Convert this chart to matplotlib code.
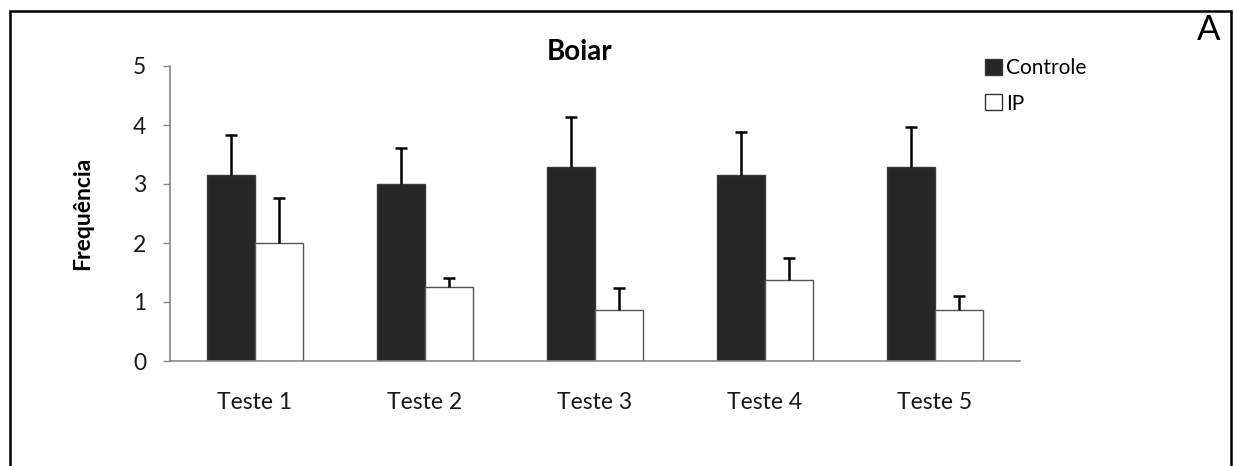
import matplotlib
matplotlib.use("Agg")
import matplotlib.pyplot as plt
import numpy as np
from matplotlib.patches import Rectangle, Patch

plt.rcParams['font.family'] = ['Lato', 'DejaVu Sans']

categories = ["Teste 1", "Teste 2", "Teste 3", "Teste 4", "Teste 5"]
controle = [3.15, 3.0, 3.28, 3.15, 3.29]
controle_err = [0.68, 0.61, 0.86, 0.73, 0.68]
ip = [2.0, 1.25, 0.87, 1.37, 0.87]
ip_err = [0.76, 0.15, 0.36, 0.38, 0.23]
series_names = ["Controle", "IP"]

W, H = 1234, 466
fig = plt.figure(figsize=(W / 100, H / 100), dpi=100)
# outer frame (open at the bottom)
fig.patches.append(Rectangle((10 / W, -0.05), (1231 - 10) / W, 1.05 - 11 / H,
                             transform=fig.transFigure, fill=False,
                             edgecolor='black', linewidth=1.8))
ax = fig.add_axes([170 / W, (H - 361) / H, 850 / W, 295 / H])

x = np.arange(len(categories))
w = 0.285
ax.bar(x - w / 2, controle, w, color='#262626', edgecolor='#3a3a3a', linewidth=1.0,
       label=series_names[0], zorder=2)
ax.bar(x + w / 2, ip, w, color='white', edgecolor='#555555', linewidth=1.0,
       label=series_names[1], zorder=2)
for xs, vals, errs in [(x - w / 2, controle, controle_err), (x + w / 2, ip, ip_err)]:
    _, caps, _ = ax.errorbar(xs, vals, yerr=[np.zeros(len(vals)), errs], fmt='none',
                             ecolor='black', elinewidth=1.8, capsize=4,
                             capthick=1.8, zorder=3)
    caps[0].set_visible(False)  # no lower cap

ax.set_xlim(-0.5, 4.5)
ax.set_ylim(0, 5)
ax.set_yticks([0, 1, 2, 3, 4, 5])
ax.set_xticks(x)
ax.set_xticklabels(categories, fontsize=16.5, color='#1a1a1a')
ax.tick_params(axis='y', labelsize=16.5, length=5, color='#888888', width=1,
               pad=12, labelcolor='#1a1a1a')
ax.tick_params(axis='x', length=0, pad=22)
for s in ['top', 'right']:
    ax.spines[s].set_visible(False)
for s in ['left', 'bottom']:
    ax.spines[s].set_color('#888888')
    ax.spines[s].set_linewidth(1.2)

ax.set_ylabel("Frequência", fontsize=16.5, fontweight='bold')
ax.yaxis.set_label_coords((93 - 170) / 850, 0.5)
fig.text(580 / W, 1 - 52 / H, "Boiar", fontsize=20, fontweight='bold',
         ha='center', va='center')
fig.text(1209 / W, 1 - 30 / H, "A", fontsize=25, ha='center', va='center')

handles = [Patch(facecolor='#262626', edgecolor='#3a3a3a', label=series_names[0]),
           Patch(facecolor='white', edgecolor='#333333', label=series_names[1])]
fig.legend(handles=handles, loc='upper left', bbox_to_anchor=(985 / W, 1 - 58 / H),
           frameon=False, fontsize=15, handlelength=0.8, handleheight=0.8,
           handletextpad=0.2, labelspacing=0.75, borderaxespad=0, borderpad=0)

fig.savefig("out.png", dpi=100)
